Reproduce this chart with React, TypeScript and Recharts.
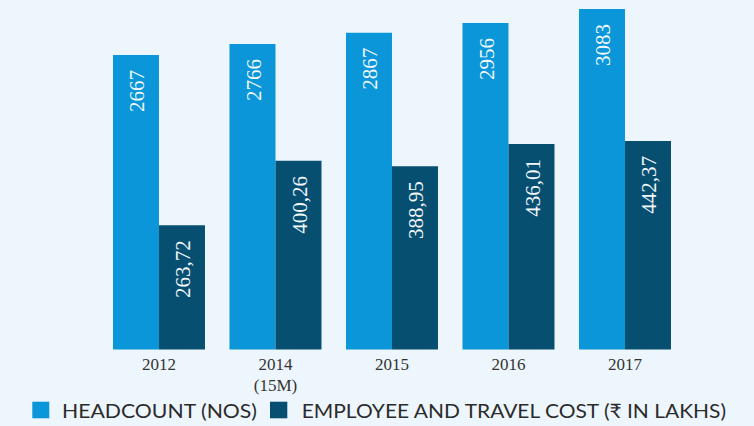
import React from 'react';
import { BarChart, Bar, XAxis, YAxis, LabelList } from 'recharts';

const categories = ['2012', '2014', '2015', '2016', '2017'];
const subLabels = ['', '(15M)', '', '', ''];
const headcount = [2667, 2766, 2867, 2956, 3083];
const employeeTravelCost = [263.72, 400.26, 388.95, 436.01, 442.37];
const seriesNames = ['HEADCOUNT (NOS)', 'EMPLOYEE AND TRAVEL COST (₹ IN LAKHS)'];
const colors = ['#0a96d8', '#074f71'];

const data = categories.map((c, i) => ({
  year: c,
  headcount: headcount[i],
  cost: employeeTravelCost[i],
}));

const YearTick = (props: any) => {
  const { x, y, payload, index } = props;
  const i = index ?? payload.index;
  const sub = subLabels[i];
  return (
    <g>
      <text x={x} y={y + 12.5} textAnchor="middle" fill="#333" fontFamily="Liberation Serif" fontSize={17}>
        {payload.value}
      </text>
      {sub ? (
        <text x={x} y={y + 33} textAnchor="middle" fill="#333" fontFamily="Liberation Serif" fontSize={17}>
          {sub}
        </text>
      ) : null}
    </g>
  );
};

const makeLabel = (fmt: (v: number) => string) => (props: any) => {
  const { x, y, width, value } = props;
  const cx = Number(x) + Number(width) / 2 + 1;
  const cy = Number(y) + 15;
  return (
    <text
      x={cx}
      y={cy}
      transform={`rotate(-90 ${cx} ${cy})`}
      textAnchor="end"
      dy="0.35em"
      fill="#f2f8fc"
      fontFamily="Liberation Serif"
      fontSize={21}
    >
      {fmt(Number(value))}
    </text>
  );
};

export default function App() {
  return (
    <div style={{ position: 'absolute', left: 0, top: 0, width: 754, height: 426, background: '#eef6fd', overflow: 'hidden' }}>
      <BarChart
        width={754}
        height={426}
        data={data}
        margin={{ top: 9, right: 70.75, left: 100.75, bottom: 46.5 }}
        barCategoryGap="10.5%"
        barGap={0}
      >
        <XAxis dataKey="year" axisLine={false} tickLine={false} height={30} tick={<YearTick />} interval={0} />
        <YAxis yAxisId="hc" hide domain={[0, 3083]} />
        <YAxis yAxisId="cost" hide domain={[0, 722.5]} />
        <Bar dataKey="headcount" yAxisId="hc" fill={colors[0]} isAnimationActive={false}>
          <LabelList dataKey="headcount" content={makeLabel((v) => String(v))} />
        </Bar>
        <Bar dataKey="cost" yAxisId="cost" fill={colors[1]} isAnimationActive={false}>
          <LabelList dataKey="cost" content={makeLabel((v) => v.toFixed(2).replace('.', ','))} />
        </Bar>
      </BarChart>
      <svg width={754} height={40} style={{ position: 'absolute', left: 0, top: 390 }}>
        <rect x={32.3} y={11.7} width={17} height={16.6} fill={colors[0]} />
        <text x={62} y={28} fontFamily="Lato" fontSize={20} fill="#2b2b2b" textLength={195} lengthAdjust="spacingAndGlyphs">
          {seriesNames[0]}
        </text>
        <rect x={270} y={11.7} width={17.3} height={16.6} fill={colors[1]} />
        <text x={301.7} y={28} fontFamily="Lato" fontSize={20} fill="#2b2b2b" textLength={424.3} lengthAdjust="spacingAndGlyphs">
          {seriesNames[1]}
        </text>
      </svg>
    </div>
  );
}
